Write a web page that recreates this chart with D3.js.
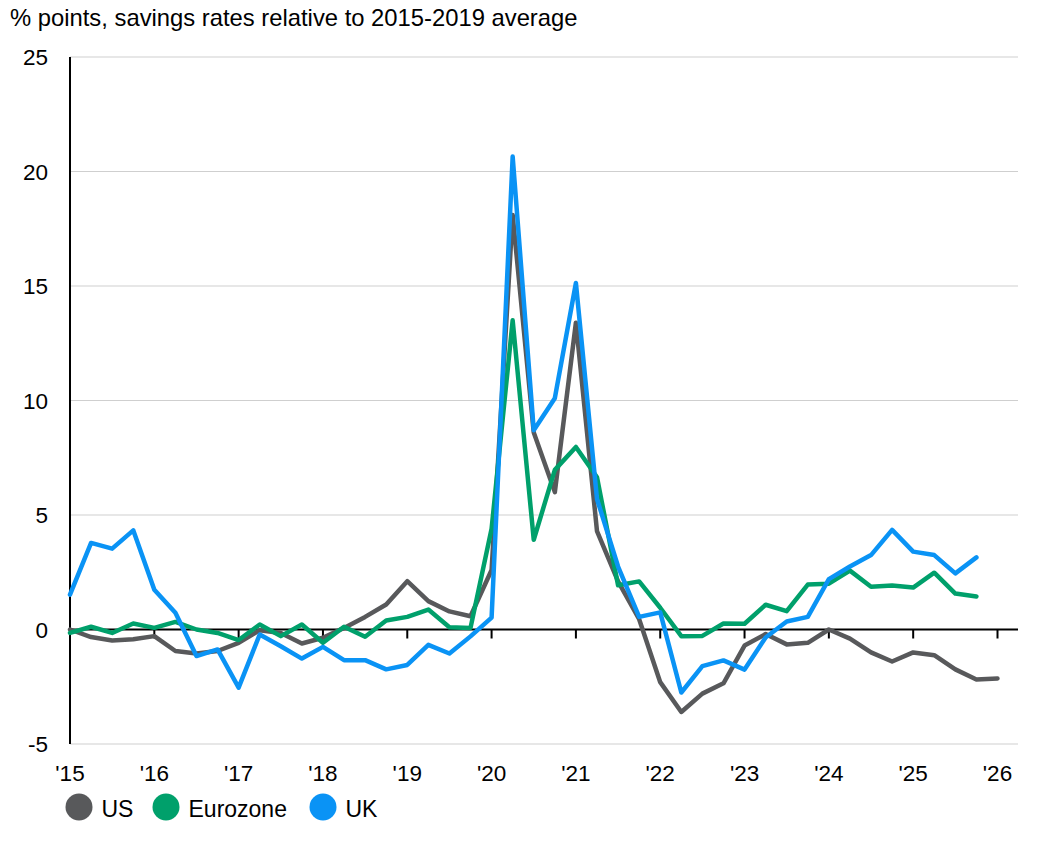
<!DOCTYPE html>
<html>
<head>
<meta charset="utf-8">
<script src="https://cdn.jsdelivr.net/npm/d3@7"></script>
<style>
  html, body { margin: 0; padding: 0; background: #fff; }
  svg { display: block; font-family: "Liberation Sans", Arial, sans-serif; }
</style>
</head>
<body>
<svg id="chart" width="1050" height="852"></svg>
<script>
// ---- Data (quarterly, starting 2015 Q1) ----
const yearLabels = ["'15","'16","'17","'18","'19","'20","'21","'22","'23","'24","'25","'26"];
const yTicks = [-5, 0, 5, 10, 15, 20, 25];
const seriesNames = ["US", "Eurozone", "UK"];
const seriesColors = ["#58595b", "#00a06b", "#0a93f5"];

const usValues = [0.0, -0.33, -0.48, -0.43, -0.29, -0.94, -1.05, -0.94, -0.58, -0.03,
  -0.15, -0.61, -0.36, 0.07, 0.55, 1.09, 2.11, 1.24, 0.79, 0.58,
  2.6, 18.1, 8.6, 6.0, 13.4, 4.3, 2.1, 0.45, -2.3, -3.6,
  -2.8, -2.35, -0.7, -0.2, -0.65, -0.58, 0.0, -0.4, -1.0, -1.4,
  -1.0, -1.12, -1.74, -2.18, -2.14];
const ezValues = [-0.15, 0.12, -0.15, 0.26, 0.07, 0.33, 0.0, -0.15, -0.46, 0.22,
  -0.29, 0.22, -0.58, 0.12, -0.32, 0.39, 0.55, 0.87, 0.1, 0.07,
  4.4, 13.5, 3.92, 6.97, 7.97, 6.65, 1.93, 2.1, 0.95, -0.29,
  -0.28, 0.26, 0.25, 1.08, 0.8, 1.96, 2.0, 2.57, 1.87, 1.92,
  1.83, 2.48, 1.57, 1.44];
const ukValues = [1.52, 3.78, 3.53, 4.33, 1.74, 0.73, -1.16, -0.87, -2.54, -0.22,
  -0.73, -1.27, -0.76, -1.34, -1.34, -1.74, -1.55, -0.67, -1.05, -0.3,
  0.52, 20.65, 8.7, 10.1, 15.13, 5.7, 2.75, 0.55, 0.75, -2.75,
  -1.6, -1.35, -1.75, -0.35, 0.35, 0.55, 2.2, 2.75, 3.25, 4.35,
  3.4, 3.25, 2.45, 3.15];

const seriesValues = [usValues, ezValues, ukValues];
const startYear = 2015;

// ---- Layout ----
const svg = d3.select("#chart");
const plotL = 70, plotR = 1018, plotT = 57, plotB = 744;
const x = d3.scaleLinear().domain([2015, 2026]).range([70, 997.5]);
const y = d3.scaleLinear().domain([-5, 25]).range([plotB, plotT]);

// Title
svg.append("text")
  .attr("x", 10).attr("y", 26)
  .attr("font-size", 23.8).attr("fill", "#000")
  .text("% points, savings rates relative to 2015-2019 average");

// Gridlines
svg.append("g").selectAll("line")
  .data(yTicks.filter(d => d !== 0))
  .join("line")
  .attr("x1", plotL).attr("x2", plotR)
  .attr("y1", d => y(d)).attr("y2", d => y(d))
  .attr("stroke", "#cfcfcf").attr("stroke-width", 1.2);

// Y tick labels
svg.append("g").selectAll("text")
  .data(yTicks)
  .join("text")
  .attr("x", 48).attr("y", d => y(d))
  .attr("dy", "0.36em")
  .attr("text-anchor", "end")
  .attr("font-size", 22.5).attr("fill", "#000")
  .text(d => d);

const line = d3.line()
  .x((d, i) => x(startYear + i / 4))
  .y(d => y(d))
  .curve(d3.curveLinear);

// Zero axis with year ticks
const yearVals = yearLabels.map((d, i) => startYear + i);
svg.append("line")
  .attr("x1", plotL).attr("x2", plotR)
  .attr("y1", y(0)).attr("y2", y(0))
  .attr("stroke", "#000").attr("stroke-width", 2);
svg.append("g").selectAll("line")
  .data(yearVals.slice(1))
  .join("line")
  .attr("x1", d => x(d)).attr("x2", d => x(d))
  .attr("y1", y(0)).attr("y2", y(0) + 9)
  .attr("stroke", "#000").attr("stroke-width", 2);

// Y axis
svg.append("line")
  .attr("x1", plotL).attr("x2", plotL)
  .attr("y1", plotT).attr("y2", plotB)
  .attr("stroke", "#000").attr("stroke-width", 2);

// Series lines
seriesValues.forEach((vals, k) => {
  svg.append("path")
    .datum(vals)
    .attr("fill", "none")
    .attr("stroke", seriesColors[k])
    .attr("stroke-width", 4.5)
    .attr("stroke-linejoin", "round")
    .attr("stroke-linecap", "round")
    .attr("d", line);
});

// X labels
svg.append("g").selectAll("text")
  .data(yearLabels)
  .join("text")
  .attr("x", (d, i) => x(yearVals[i]))
  .attr("y", 781)
  .attr("text-anchor", "middle")
  .attr("font-size", 22.5).attr("fill", "#000")
  .text(d => d);

// Legend
const legendX = [79, 166, 323];
const lg = svg.append("g");
seriesNames.forEach((name, k) => {
  lg.append("circle")
    .attr("cx", legendX[k]).attr("cy", 807)
    .attr("r", 13.5)
    .attr("fill", seriesColors[k]);
  lg.append("text")
    .attr("x", legendX[k] + 22.5).attr("y", 817)
    .attr("font-size", 23).attr("fill", "#000")
    .text(name);
});
</script>
</body>
</html>
